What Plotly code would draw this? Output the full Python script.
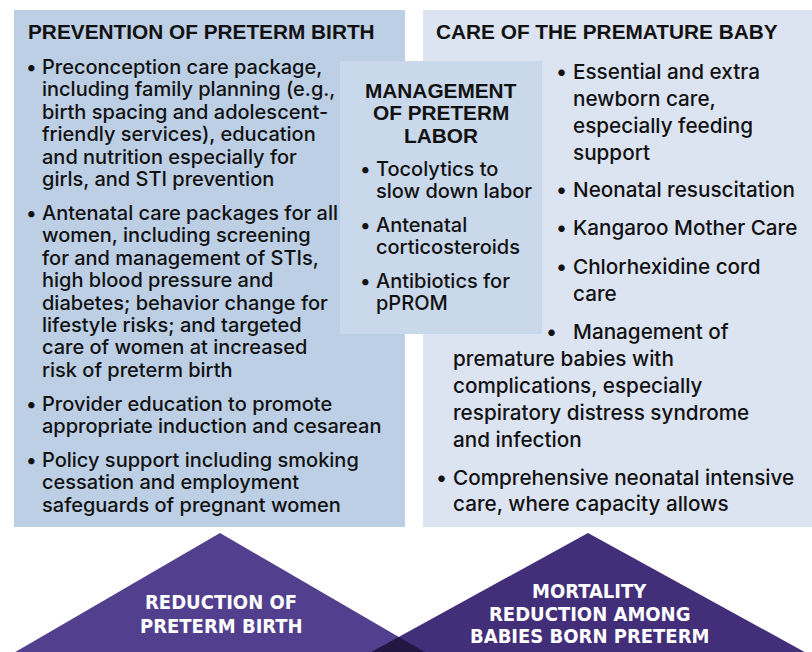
import plotly.graph_objects as go

# ---------------- content ----------------
left_title = "PREVENTION OF PRETERM BIRTH"
left_items = [
    ["Preconception care package,", "including family planning (e.g.,", "birth spacing and adolescent-",
     "friendly services), education", "and nutrition especially for", "girls, and STI prevention"],
    ["Antenatal care packages for all", "women, including screening", "for and management of STIs,",
     "high blood pressure and", "diabetes; behavior change for", "lifestyle risks; and targeted",
     "care of women at increased", "risk of preterm birth"],
    ["Provider education to promote", "appropriate induction and cesarean"],
    ["Policy support including smoking", "cessation and employment", "safeguards of pregnant women"],
]
mid_title = ["MANAGEMENT", "OF PRETERM", "LABOR"]
mid_items = [
    ["Tocolytics to", "slow down labor"],
    ["Antenatal", "corticosteroids"],
    ["Antibiotics for", "pPROM"],
]
right_title = "CARE OF THE PREMATURE BABY"
right_items = [
    ["Essential and extra", "newborn care,", "especially feeding", "support"],
    ["Neonatal resuscitation"],
    ["Kangaroo Mother Care"],
    ["Chlorhexidine cord", "care"],
    ["Management of", "premature babies with", "complications, especially",
     "respiratory distress syndrome", "and infection"],
    ["Comprehensive neonatal intensive", "care, where capacity allows"],
]
outcome_left = ["REDUCTION OF", "PRETERM BIRTH"]
outcome_right = ["MORTALITY", "REDUCTION AMONG", "BABIES BORN PRETERM"]

# ---------------- style ----------------
W, H = 812, 652
C_LEFT = "#bccfe5"
C_RIGHT = "#dce3f1"
C_MID = "#c9d8ea"
C_TRI_L = "#523f8d"
C_TRI_R = "#432e7a"
C_OVER = "#211742"
TXT = "#111111"
FONT = "Inter, Liberation Sans, Arial, sans-serif"
FONT_B = "Liberation Sans, Arial, Helvetica, sans-serif"
FONT_N = "Liberation Sans Narrow, Arial Narrow, DejaVu Sans Condensed, sans-serif"

fig = go.Figure()
shapes = []
ann = []


def rect(x0, y0, x1, y1, color):
    shapes.append(dict(type="rect", xref="x", yref="y", x0=x0, y0=y0, x1=x1, y1=y1,
                       fillcolor=color, line=dict(width=0), layer="below"))


def poly(pts, color):
    path = "M " + " L ".join(f"{x},{y}" for x, y in pts) + " Z"
    shapes.append(dict(type="path", xref="x", yref="y", path=path,
                       fillcolor=color, line=dict(width=0), layer="below"))


def txt(x, y, s, size=19.5, weight="normal", color=TXT, anchor="left", family=FONT):
    ann.append(dict(x=x, y=y, xref="x", yref="y", text=s, showarrow=False,
                    xanchor=anchor, yanchor="middle",
                    font=dict(family=family, size=size, color=color, weight=weight)))


# boxes
rect(14, 10, 405, 527, C_LEFT)
rect(423, 10, W, 527, C_RIGHT)
rect(340, 61, 542, 334, C_MID)

# triangles
apL, apR, base = (220, 533), (588, 533), H
sL = 1.72
sR = 1.82
triL = [apL, (apL[0] - sL * (base - apL[1]), base), (apL[0] + sL * (base - apL[1]), base)]
triR = [apR, (apR[0] - sR * (base - apR[1]), base), (apR[0] + sR * (base - apR[1]), base)]
poly(triL, C_TRI_L)
poly(triR, C_TRI_R)
yi = (apR[0] - apL[0] + sL * apL[1] + sR * apR[1]) / (sL + sR)
xi = apL[0] + sL * (yi - apL[1])
poly([(xi, yi), (triR[1][0], base), (triL[2][0], base)], C_OVER)

LS = 20.0   # left / middle body size
RS = 20.7   # right body size
BW = 500    # body weight

# left text
txt(26, 31, left_title, size=20.8, weight="bold", family=FONT_B)
LH = 22.4
starts = [67, 213, 404, 460]
for item, y0 in zip(left_items, starts):
    txt(24, y0, "•", size=LS, weight=BW)
    for i, line in enumerate(item):
        txt(40, y0 + i * LH, line, size=LS, weight=BW)

# middle text
for i, line in enumerate(mid_title):
    txt(441, 90 + i * 22.5, line, size=20.8, weight="bold", anchor="center", family=FONT_B)
for item, y0 in zip(mid_items, [169, 225, 281]):
    txt(358, y0, "•", size=LS, weight=BW)
    for i, line in enumerate(item):
        txt(374, y0 + i * 22.2, line, size=LS, weight=BW)

# right text
txt(434, 31, right_title, size=20.8, weight="bold", family=FONT_B)
RH = 27
r_starts = [71, 189, 227, 266]
for item, y0 in zip(right_items[:4], r_starts):
    txt(554, y0, "•", size=RS, weight=BW)
    for i, line in enumerate(item):
        txt(571, y0 + i * RH, line, size=RS, weight=BW)
item = right_items[4]
txt(544, 331, "•", size=RS, weight=BW)
txt(571, 331, item[0], size=RS, weight=BW)
for i, line in enumerate(item[1:]):
    txt(451, 358 + i * RH, line, size=RS, weight=BW)
item = right_items[5]
txt(434, 477, "•", size=RS, weight=BW)
for i, line in enumerate(item):
    txt(451, 477 + i * 26.5, line, size=RS, weight=BW)

# outcome text
for i, line in enumerate(outcome_left):
    txt(221, 602 + i * 24, line, size=20, weight="bold", color="white", anchor="center", family=FONT_N)
for i, line in enumerate(outcome_right):
    txt(589, 591 + i * 22.5, line, size=20, weight="bold", color="white", anchor="center", family=FONT_N)

fig.update_layout(
    width=W, height=H, margin=dict(l=0, r=0, t=0, b=0),
    paper_bgcolor="white", plot_bgcolor="white",
    xaxis=dict(range=[0, W], visible=False, fixedrange=True),
    yaxis=dict(range=[H, 0], visible=False, fixedrange=True),
    shapes=shapes, annotations=ann, showlegend=False,
)
fig.write_html("out.html", config={"displayModeBar": False},
               post_script="document.body.style.margin='0';document.body.style.overflow='hidden';")
